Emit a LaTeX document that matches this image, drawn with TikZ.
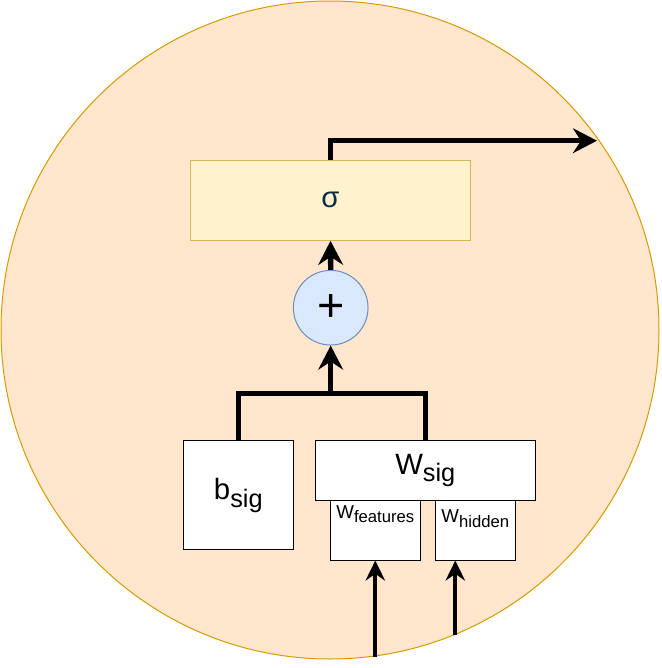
\documentclass[tikz,border=0pt]{standalone}
\usepackage{fontspec}
\setmainfont{Liberation Sans}
\definecolor{cellpeach}{HTML}{FFE6CC}
\definecolor{cellorange}{HTML}{D79B00}
\definecolor{actyellow}{HTML}{FFF2CC}
\definecolor{actgold}{HTML}{D6B656}
\definecolor{sumblue}{HTML}{DAE8FC}
\definecolor{sumedge}{HTML}{6C8EBF}
\definecolor{signavy}{HTML}{0B2A4A}
\usetikzlibrary{arrows.meta,positioning}

\begin{document}
\begin{tikzpicture}[x=0.75pt,y=-0.75pt,
  param/.style={draw=black,fill=white,line width=0.75pt,inner sep=0pt,align=center},
  wire/.style={line width=4pt,line join=miter},
  flow/.style={wire,-{Stealth[length=18pt,width=18.5pt,inset=6pt]}},
  feed/.style={line width=3pt,-{Stealth[length=15pt,width=14.5pt,inset=5pt]}}
]
  \useasboundingbox (0,0) rectangle (661,668);
  % cell
  \draw[fill=cellpeach,draw=cellorange,line width=0.75pt] (330,330) circle [radius=329];

  % activation and sum
  \node[draw=actgold,fill=actyellow,line width=0.75pt,minimum width=210.3pt,minimum height=60pt,
    text=signavy,font=\fontsize{22}{22}\selectfont] (sig) at (330.5,200.3) {σ};
  \node[circle,draw=sumedge,fill=sumblue,line width=0.75pt,minimum size=56pt,inner sep=0pt,
    font=\fontsize{35}{35}\selectfont] (plus) at (330.7,307.7) {+};

  % parameters
  \node[param,minimum width=82.5pt,minimum height=82pt,font=\fontsize{22}{22}\selectfont]
    (bsig) at (238.3,495.3) {b\raisebox{-6pt}{\fontsize{19}{19}\selectfont sig}};
  \node[param,minimum width=165pt,minimum height=44.7pt,font=\fontsize{22}{22}\selectfont]
    (wsig) at (425.3,470.5) {W\raisebox{-5pt}{\fontsize{19}{19}\selectfont sig}};
  \node[param,minimum width=67.5pt,minimum height=45pt,text height=12pt,text depth=29pt,
    font=\fontsize{14}{14}\selectfont] (wfeat) at (375.3,530)
    {W\raisebox{-3pt}{\fontsize{12.5}{12.5}\selectfont features}};
  \node[param,minimum width=60pt,minimum height=45pt,text height=15pt,text depth=26pt,
    font=\fontsize{14}{14}\selectfont] (whid) at (475.3,530)
    {W\raisebox{-3.5pt}{\fontsize{12.5}{12.5}\selectfont hidden}};

  \coordinate (jn) at (330.7,393.3);
  \coordinate (out) at (597,140.7);
  \coordinate (infeat) at (375.3,657);
  \coordinate (inhid) at (455.3,635);

  % connectors
  \draw[wire] (bsig.north) |- (jn) -| (wsig.north);
  \draw[flow] (jn) -- (plus.south);
  \draw[flow] (plus.north) -- (sig.south);
  \draw[flow] (sig.north) |- (out);
  \draw[feed] (infeat) -- (wfeat.south -| infeat);
  \draw[feed] (inhid) -- (whid.south -| inhid);
\end{tikzpicture}
\end{document}
